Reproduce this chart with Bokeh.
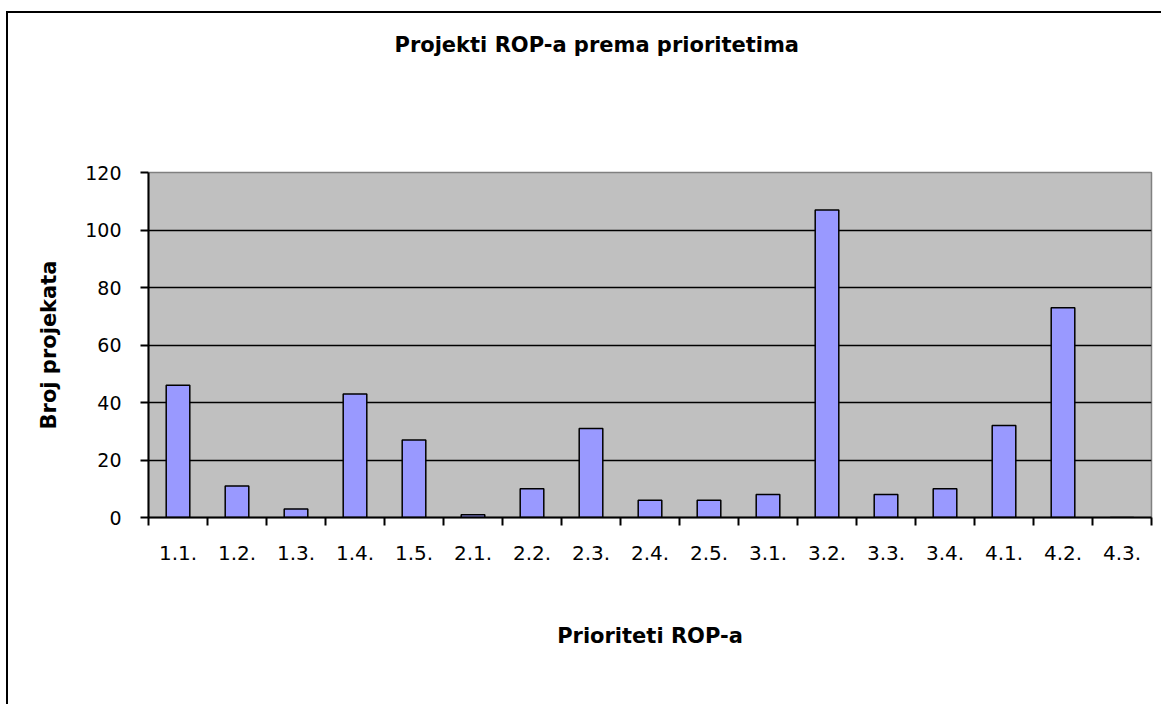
from bokeh.plotting import figure
from bokeh.models import LinearAxis, FixedTicker, Range1d, Title, ColumnDataSource
from bokeh.embed import file_html
from bokeh.resources import INLINE

# ---- data ----
categories = ["1.1.", "1.2.", "1.3.", "1.4.", "1.5.", "2.1.", "2.2.", "2.3.", "2.4.",
              "2.5.", "3.1.", "3.2.", "3.3.", "3.4.", "4.1.", "4.2.", "4.3."]
counts = [46, 11, 3, 43, 27, 1, 10, 31, 6, 6, 8, 107, 8, 10, 32, 73, 0]
y_ticks = [0, 20, 40, 60, 80, 100, 120]
grid_ticks = [20, 40, 60, 80, 100]
title_text = "Projekti ROP-a prema prioritetima"
x_title = "Prioriteti ROP-a"
y_title = "Broj projekata"

n = len(categories)
centers = [i + 0.5 for i in range(n)]
bounds = list(range(n + 1))

FONT = "DejaVu Sans"

p = figure(width=1155, height=693,
           x_range=Range1d(0, n), y_range=Range1d(0, 120),
           output_backend="svg", toolbar_location=None, x_axis_location=None,
           min_border_left=140, min_border_right=12,
           min_border_top=159, min_border_bottom=189)
p.styles = {"border-left": "2px solid black", "border-top": "2px solid black",
            "margin-left": "6px", "margin-top": "11px"}
p.background_fill_color = "#C0C0C0"
p.border_fill_color = "white"
p.outline_line_color = "#808080"
p.outline_line_width = 1.5

src = ColumnDataSource(dict(x=centers, top=counts, cat=categories))
p.vbar(x="x", top="top", bottom=0, width=0.4, source=src,
       fill_color="#9999FF", line_color="black", line_width=1.5)

# invisible spacer between the plot area and the chart title
spacer = LinearAxis(ticker=FixedTicker(ticks=[bounds[0]]), axis_line_color=None,
                    major_tick_line_color="white", major_tick_line_width=1,
                    minor_tick_line_color=None,
                    major_tick_out=116, major_tick_in=0, major_label_standoff=0,
                    major_label_text_font_size="0px")
spacer.major_label_overrides = {bounds[0]: ""}
p.add_layout(spacer, "above")

# chart title
p.add_layout(Title(text=title_text, align="left", offset=246, standoff=0,
                   text_font=FONT, text_font_style="bold", text_font_size="21px",
                   text_color="black"), "above")

# y axis
ya = p.yaxis[0]
ya.ticker = FixedTicker(ticks=y_ticks)
ya.axis_line_color = "black"
ya.axis_line_width = 2
ya.major_tick_line_color = "black"
ya.major_tick_line_width = 2
ya.major_tick_out = 8
ya.major_tick_in = 0
ya.minor_tick_line_color = None
ya.major_label_text_font = FONT
ya.major_label_text_font_size = "19px"
ya.major_label_text_color = "black"
ya.major_label_standoff = 19
ya.axis_label = y_title
ya.axis_label_text_font = FONT
ya.axis_label_text_font_style = "bold"
ya.axis_label_text_font_size = "21px"
ya.axis_label_text_color = "black"
ya.axis_label_standoff = 21

p.ygrid.ticker = FixedTicker(ticks=grid_ticks)
p.ygrid.grid_line_color = "black"
p.ygrid.grid_line_width = 1.5
p.xgrid.visible = False

# x axis: boundary ticks
xa1 = LinearAxis(ticker=FixedTicker(ticks=bounds),
                 major_label_text_font_size="0px", major_label_standoff=0,
                 major_tick_out=8, major_tick_in=0, major_tick_line_width=2,
                 axis_line_width=2, minor_tick_line_color=None)
xa1.major_label_overrides = {b: "" for b in bounds}
p.add_layout(xa1, "below")

# x axis: category labels
xa2 = LinearAxis(ticker=FixedTicker(ticks=centers),
                 axis_line_color=None, major_tick_line_color=None,
                 minor_tick_line_color=None, major_tick_out=0, major_tick_in=0,
                 major_label_standoff=20, major_label_text_font=FONT,
                 major_label_text_font_size="20px", major_label_text_color="black",
                 axis_label=x_title, axis_label_text_font=FONT,
                 axis_label_text_font_style="bold", axis_label_text_font_size="21px",
                 axis_label_text_color="black", axis_label_standoff=61)
xa2.major_label_overrides = {c: cat for c, cat in zip(centers, categories)}
p.add_layout(xa2, "below")

open("out.html", "w").write(file_html(p, INLINE))
